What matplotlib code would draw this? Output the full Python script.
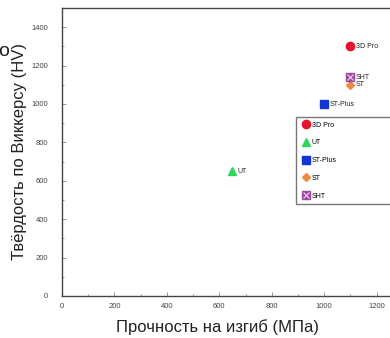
import matplotlib
matplotlib.use('Agg')
import matplotlib.pyplot as plt
from matplotlib.ticker import MultipleLocator

plt.rcParams['font.family'] = ['Liberation Sans', 'DejaVu Sans']

## данные
names = ['3D Pro', 'UT', 'ST-Plus', 'ST', 'SHT']
strength = [1100, 650, 1000, 1100, 1100]
hardness = [1300, 650, 1000, 1100, 1140]
colors = ['#e3142c', '#2fd65a', '#1235d6', '#ef8a45', '#a0479e']
markers = ['o', '^', 's', 'D', 's']

fig = plt.figure(figsize=(3.9, 3.38), dpi=100)
ax = fig.add_axes([62/390, 42/338, 367/390, 288/338])

handles = []
for n, x, y, c, m in zip(names, strength, hardness, colors, markers):
    ms = 6 if m != 'D' else 4.5
    h = ax.plot(x, y, m, color=c, ms=ms, mec=c, label=n, clip_on=False)[0]
    if n == 'SHT':
        hx = ax.plot(x, y, 'x', color='#e8c8e8', ms=4, mew=0.9)[0]
        handles.append((h, hx))
    else:
        handles.append(h)
    ax.annotate(n, (x, y), xytext=(4, 0), textcoords='offset points',
                fontsize=5, va='center', color='#222222')

# легенда выходит за правый край, как в оригинале
leg = ax.legend(handles, names, loc='upper left',
                bbox_to_anchor=(234/367, 179/288, 150/367, 0.0), mode='expand',
                fontsize=5, frameon=True, fancybox=False, edgecolor='#555555',
                labelspacing=1.55, handletextpad=0.1, handlelength=1.5,
                borderpad=0.65, borderaxespad=0)
leg.get_frame().set_linewidth(1.0)

ax.set_xlim(0, 1400)
ax.set_ylim(0, 1500)
ax.xaxis.set_major_locator(MultipleLocator(200))
ax.yaxis.set_major_locator(MultipleLocator(200))
ax.xaxis.set_minor_locator(MultipleLocator(100))
ax.yaxis.set_minor_locator(MultipleLocator(100))
ax.tick_params(which='both', direction='in', labelsize=5.5, labelcolor='#444444',
               color='#888888', width=0.6)
ax.tick_params(which='major', length=3)
ax.tick_params(which='minor', length=1.5)
ax.tick_params(axis='x', pad=5)
ax.tick_params(axis='y', pad=10)
for s in ax.spines.values():
    s.set_color('#444444')
    s.set_linewidth(1.0)

ax.set_xlabel('Прочность на изгиб (МПа)', fontsize=12, color='#222222')
ax.set_ylabel('Твёрдость по Виккерсу (HV)', fontsize=12, color='#222222')
ax.xaxis.set_label_coords(155/367, -23/288)
ax.yaxis.set_label_coords(-35/367, 0.5)

# обрезанный кусок надписи слева
fig.text(9/390, 1 - 52/338, 'о', fontsize=14, ha='right', va='center', color='#222222')

fig.savefig('out.png', dpi=100)
